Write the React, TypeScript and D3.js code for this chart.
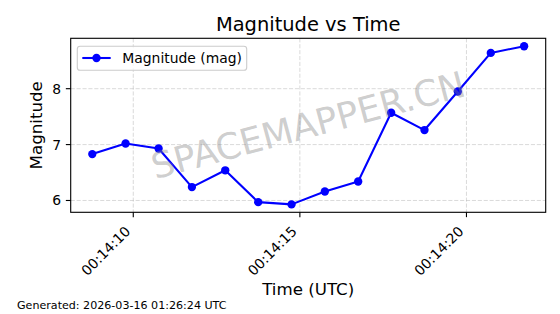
import React from "react";
import * as d3 from "d3";

const times: string[] = [
  "2026-03-16T00:14:08.770Z",
  "2026-03-16T00:14:09.770Z",
  "2026-03-16T00:14:10.760Z",
  "2026-03-16T00:14:11.760Z",
  "2026-03-16T00:14:12.760Z",
  "2026-03-16T00:14:13.750Z",
  "2026-03-16T00:14:14.750Z",
  "2026-03-16T00:14:15.750Z",
  "2026-03-16T00:14:16.750Z",
  "2026-03-16T00:14:17.740Z",
  "2026-03-16T00:14:18.740Z",
  "2026-03-16T00:14:19.740Z",
  "2026-03-16T00:14:20.730Z",
  "2026-03-16T00:14:21.730Z",
];
const magnitudes: number[] = [6.83, 7.02, 6.93, 6.24, 6.54, 5.97, 5.93, 6.16, 6.34, 7.57, 7.26, 7.95, 8.64, 8.76];
const yTicks: number[] = [6, 7, 8];

const title = "Magnitude vs Time";
const xLabel = "Time (UTC)";
const yLabel = "Magnitude";
const legendLabel = "Magnitude (mag)";
const watermark = "SPACEMAPPER.CN";
const footer = "Generated: 2026-03-16 01:26:24 UTC";

const W = 560;
const H = 314;
const L = 70.7;
const R = 545.7;
const T = 38.3;
const B = 212.3;
const FONT = "DejaVu Sans, sans-serif";
const BLUE = "#0000ff";

export default function App() {
  const dates = times.map((t) => new Date(t));
  const [x0, x1] = d3.extent(dates) as [Date, Date];
  const xPad = (x1.getTime() - x0.getTime()) * 0.05;
  const x = d3
    .scaleUtc()
    .domain([new Date(x0.getTime() - xPad), new Date(x1.getTime() + xPad)])
    .range([L, R]);
  const [y0, y1] = d3.extent(magnitudes) as [number, number];
  const yPad = (y1 - y0) * 0.05;
  const y = d3.scaleLinear().domain([y0 - yPad, y1 + yPad]).range([B, T]);

  const xTicks = x.ticks(d3.utcSecond.every(5) as any);
  const fmt = d3.utcFormat("%H:%M:%S");

  const pts = dates.map((d, i) => [x(d), y(magnitudes[i])] as [number, number]);
  const line = d3.line()(pts) || "";

  const tickLen = 4.86;
  const dash = "4.1,1.8";
  const cx = (L + R) / 2;
  const cy = (T + B) / 2;

  return (
    <svg
      width={W}
      height={H}
      style={{ position: "absolute", left: 0, top: 0, background: "#fff" }}
      fontFamily={FONT}
    >
      <rect x={0} y={0} width={W} height={H} fill="#fff" />
      {xTicks.map((t, i) => (
        <line
          key={"gx" + i}
          x1={x(t)}
          x2={x(t)}
          y1={T}
          y2={B}
          stroke="#b0b0b0"
          strokeOpacity={0.6}
          strokeWidth={0.8}
          strokeDasharray={dash}
        />
      ))}
      {yTicks.map((t, i) => (
        <line
          key={"gy" + i}
          x1={L}
          x2={R}
          y1={y(t)}
          y2={y(t)}
          stroke="#b0b0b0"
          strokeOpacity={0.6}
          strokeWidth={0.8}
          strokeDasharray={dash}
        />
      ))}
      <path d={line} fill="none" stroke={BLUE} strokeWidth={2.08} strokeLinejoin="round" />
      {pts.map((p, i) => (
        <circle key={"p" + i} cx={p[0]} cy={p[1]} r={4.17} fill={BLUE} />
      ))}
      <text
        x={cx}
        y={cy}
        transform={`rotate(-15, ${cx}, ${cy})`}
        textAnchor="middle"
        dominantBaseline="central"
        fontSize={36}
        fill="#808080"
        fillOpacity={0.4}
      >
        {watermark}
      </text>
      <rect x={L} y={T} width={R - L} height={B - T} fill="none" stroke="#000" strokeWidth={1.11} />
      {yTicks.map((t, i) => (
        <g key={"yt" + i}>
          <line x1={L - tickLen} x2={L} y1={y(t)} y2={y(t)} stroke="#000" strokeWidth={1.11} />
          <text x={L - tickLen - 4.86} y={y(t) + 5} textAnchor="end" fontSize={13.9} fill="#000">
            {t}
          </text>
        </g>
      ))}
      {xTicks.map((t, i) => {
        const tx = x(t);
        const ax = tx - 2;
        const ay = B + 20;
        return (
          <g key={"xt" + i}>
            <line x1={tx} x2={tx} y1={B} y2={B + tickLen} stroke="#000" strokeWidth={1.11} />
            <text
              x={ax}
              y={ay}
              transform={`rotate(-45, ${ax}, ${ay})`}
              textAnchor="end"
              fontSize={13.9}
              fill="#000"
            >
              {fmt(t)}
            </text>
          </g>
        );
      })}
      <rect
        x={77.3}
        y={46.3}
        width={169.4}
        height={24}
        rx={2.8}
        fill="#fff"
        fillOpacity={0.8}
        stroke="#cccccc"
        strokeWidth={1.11}
      />
      <line x1={82.3} x2={110.7} y1={58} y2={58} stroke={BLUE} strokeWidth={2.08} />
      <circle cx={96.5} cy={58} r={4.17} fill={BLUE} />
      <text x={122.3} y={63} fontSize={13.9} fill="#000">
        {legendLabel}
      </text>
      <text x={cx} y={31} textAnchor="middle" fontSize={19.44} fill="#000">
        {title}
      </text>
      <text x={cx} y={295} textAnchor="middle" fontSize={16.67} fill="#000">
        {xLabel}
      </text>
      <text
        x={42}
        y={cy}
        transform={`rotate(-90, 42, ${cy})`}
        textAnchor="middle"
        fontSize={16.67}
        fill="#000"
      >
        {yLabel}
      </text>
      <text x={17} y={309} fontSize={11.1} fill="#000">
        {footer}
      </text>
    </svg>
  );
}
